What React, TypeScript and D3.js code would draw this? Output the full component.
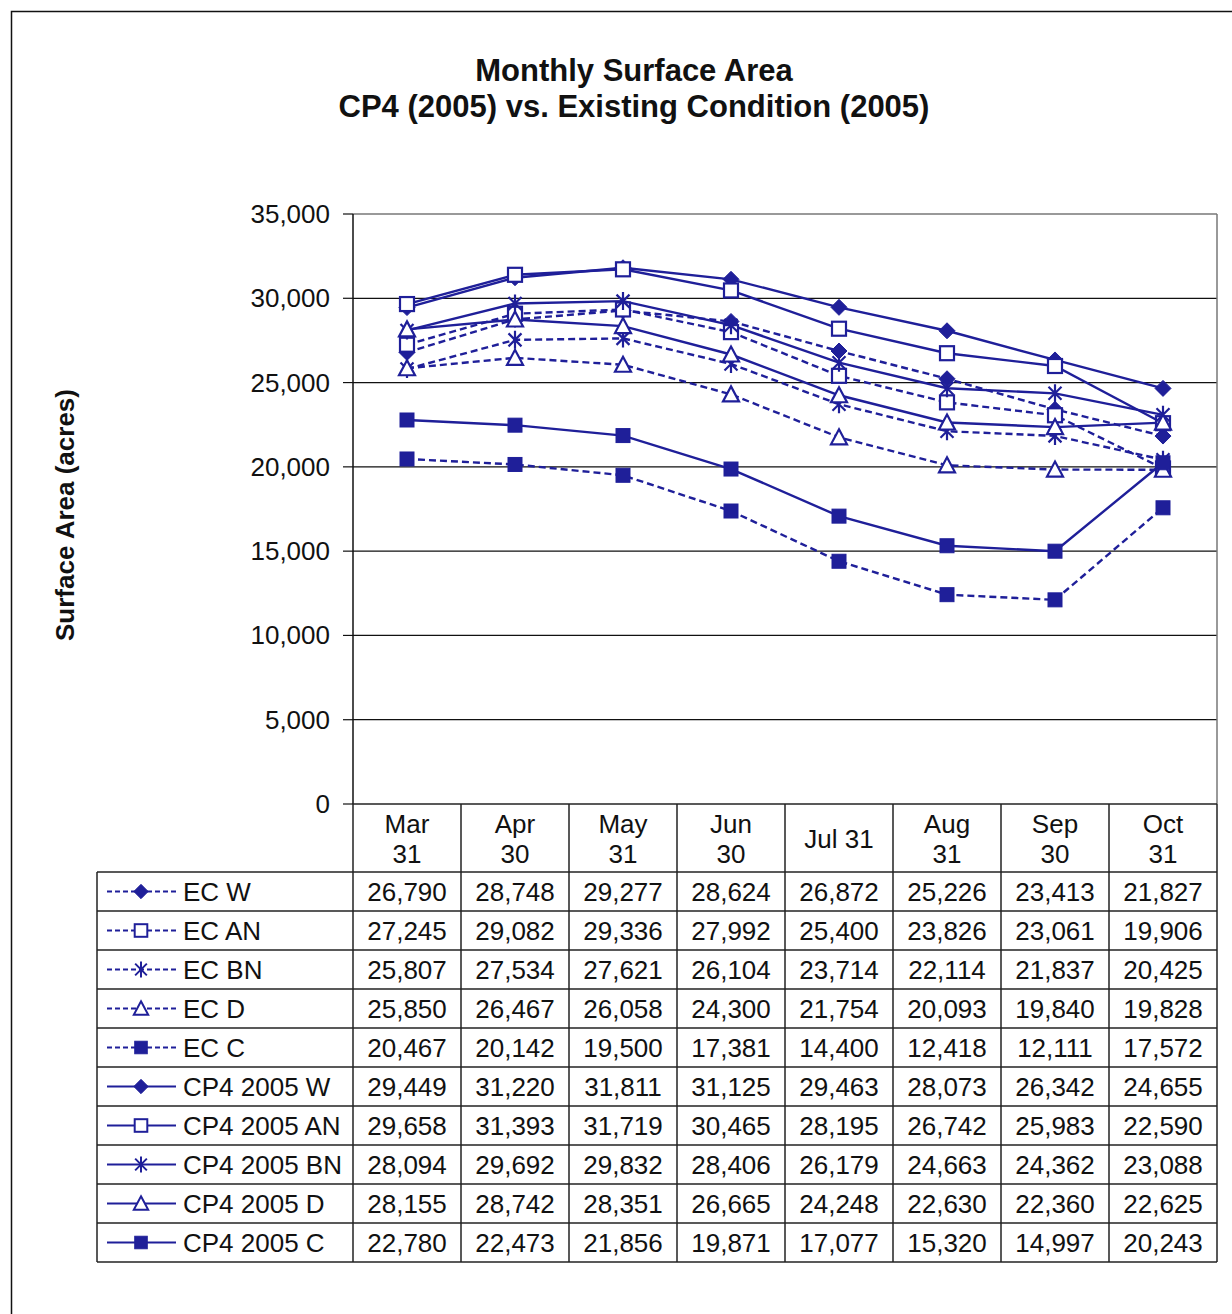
import React from "react";
import * as d3 from "d3";

const months = ["Mar 31", "Apr 30", "May 31", "Jun 30", "Jul 31", "Aug 31", "Sep 30", "Oct 31"];
const monthLines = [["Mar", "31"], ["Apr", "30"], ["May", "31"], ["Jun", "30"], ["Jul 31"], ["Aug", "31"], ["Sep", "30"], ["Oct", "31"]];
const yTicks = [0, 5000, 10000, 15000, 20000, 25000, 30000, 35000];

const ecW = [26790, 28748, 29277, 28624, 26872, 25226, 23413, 21827];
const ecAN = [27245, 29082, 29336, 27992, 25400, 23826, 23061, 19906];
const ecBN = [25807, 27534, 27621, 26104, 23714, 22114, 21837, 20425];
const ecD = [25850, 26467, 26058, 24300, 21754, 20093, 19840, 19828];
const ecC = [20467, 20142, 19500, 17381, 14400, 12418, 12111, 17572];
const cpW = [29449, 31220, 31811, 31125, 29463, 28073, 26342, 24655];
const cpAN = [29658, 31393, 31719, 30465, 28195, 26742, 25983, 22590];
const cpBN = [28094, 29692, 29832, 28406, 26179, 24663, 24362, 23088];
const cpD = [28155, 28742, 28351, 26665, 24248, 22630, 22360, 22625];
const cpC = [22780, 22473, 21856, 19871, 17077, 15320, 14997, 20243];

type Series = { name: string; values: number[]; dashed: boolean; marker: string };
const series: Series[] = [
  { name: "EC W", values: ecW, dashed: true, marker: "diamond" },
  { name: "EC AN", values: ecAN, dashed: true, marker: "squareOpen" },
  { name: "EC BN", values: ecBN, dashed: true, marker: "star" },
  { name: "EC D", values: ecD, dashed: true, marker: "triangle" },
  { name: "EC C", values: ecC, dashed: true, marker: "squareFilled" },
  { name: "CP4 2005 W", values: cpW, dashed: false, marker: "diamond" },
  { name: "CP4 2005 AN", values: cpAN, dashed: false, marker: "squareOpen" },
  { name: "CP4 2005 BN", values: cpBN, dashed: false, marker: "star" },
  { name: "CP4 2005 D", values: cpD, dashed: false, marker: "triangle" },
  { name: "CP4 2005 C", values: cpC, dashed: false, marker: "squareFilled" },
];

const COLOR = "#1f1f99";
const FONT = "'Liberation Sans', Arial, sans-serif";

function Marker({ type, x, y, s = 1 }: { type: string; x: number; y: number; s?: number }) {
  const t = `translate(${x},${y}) scale(${s})`;
  if (type === "diamond") {
    return <path transform={t} d="M0,-8 L8,0 L0,8 L-8,0 Z" fill={COLOR} stroke={COLOR} strokeWidth={1} />;
  }
  if (type === "squareOpen") {
    return <rect transform={t} x={-7} y={-7} width={14} height={14} fill="white" stroke={COLOR} strokeWidth={2.2} />;
  }
  if (type === "squareFilled") {
    return <rect transform={t} x={-7} y={-7} width={14} height={14} fill={COLOR} stroke={COLOR} strokeWidth={1} />;
  }
  if (type === "triangle") {
    return <path transform={t} d="M0,-8 L8,7 L-8,7 Z" fill="white" stroke={COLOR} strokeWidth={2.2} />;
  }
  return (
    <path transform={t} d="M-6.5,-6.5 L6.5,6.5 M-6.5,6.5 L6.5,-6.5 M0,-9 L0,9" fill="none" stroke={COLOR} strokeWidth={2.2} />
  );
}

export default function App() {
  const W = 1232;
  const H = 1314;
  const left = 353;
  const right = 1217;
  const top = 214;
  const bottom = 804;
  const tableLeft = 97;
  const headerBottom = 872;
  const rowH = 39;

  const x = d3.scaleBand<string>().domain(months).range([left, right]);
  const y = d3.scaleLinear().domain([0, 35000]).range([bottom, top]);
  const fmt = d3.format(",");
  const line = d3
    .line<number>()
    .x((_, i) => (x(months[i]) as number) + x.bandwidth() / 2)
    .y((v) => y(v));

  const cx = (i: number) => (x(months[i]) as number) + x.bandwidth() / 2;
  const tableBottom = headerBottom + rowH * series.length;
  const FS = 26;

  return (
    <div style={{ position: "absolute", left: 0, top: 0 }}>
      <svg width={W} height={H} style={{ display: "block", background: "white" }} fontFamily={FONT}>
        <rect x={0} y={0} width={W} height={H} fill="white" />
        <rect x={11.5} y={11.5} width={W + 10} height={H + 10} fill="none" stroke="#111" strokeWidth={1.5} />

        <text x={634} y={81} textAnchor="middle" fontSize={31} fontWeight="bold" fill="#111">
          Monthly Surface Area
        </text>
        <text x={634} y={117} textAnchor="middle" fontSize={31} fontWeight="bold" fill="#111">
          CP4 (2005) vs. Existing Condition (2005)
        </text>

        <text
          transform={`translate(74,${(top + bottom) / 2 + 6}) rotate(-90)`}
          textAnchor="middle"
          fontSize={26}
          fontWeight="bold"
          fill="#111"
        >
          Surface Area (acres)
        </text>

        {yTicks.map((t) => (
          <g key={t}>
            {t > 0 && t < 35000 && (
              <line x1={left} x2={right} y1={y(t)} y2={y(t)} stroke="#111" strokeWidth={1.2} />
            )}
            <line x1={left - 10} x2={left} y1={y(t)} y2={y(t)} stroke="#111" strokeWidth={1.2} />
            <text x={330} y={y(t) + 9} textAnchor="end" fontSize={FS} fill="#111">
              {fmt(t)}
            </text>
          </g>
        ))}
        <line x1={left} x2={right} y1={top} y2={top} stroke="#777" strokeWidth={1.5} />
        <line x1={right} x2={right} y1={top} y2={bottom} stroke="#777" strokeWidth={1.5} />
        <line x1={left} x2={left} y1={top} y2={bottom} stroke="#111" strokeWidth={1.5} />

        {series.map((s) => (
          <path
            key={s.name}
            d={line(s.values) as string}
            fill="none"
            stroke={COLOR}
            strokeWidth={2.4}
            strokeDasharray={s.dashed ? "7,4" : undefined}
          />
        ))}
        {series.map((s) => (
          <g key={s.name + "m"}>
            {s.values.map((v, i) => (
              <Marker key={i} type={s.marker} x={cx(i)} y={y(v)} />
            ))}
          </g>
        ))}

        <g stroke="#222" strokeWidth={1.5}>
          <line x1={left} x2={right} y1={bottom} y2={bottom} />
          {series.map((_, r) => (
            <line key={r} x1={tableLeft} x2={right} y1={headerBottom + r * rowH} y2={headerBottom + r * rowH} />
          ))}
          <line x1={tableLeft} x2={right} y1={tableBottom} y2={tableBottom} />
          <line x1={tableLeft} x2={tableLeft} y1={headerBottom} y2={tableBottom} />
          {months.map((m) => (
            <line key={m} x1={x(m) as number} x2={x(m) as number} y1={bottom} y2={tableBottom} />
          ))}
          <line x1={right} x2={right} y1={bottom} y2={tableBottom} />
        </g>

        {monthLines.map((ls, i) =>
          ls.length === 2 ? (
            <g key={i}>
              <text x={cx(i)} y={833} textAnchor="middle" fontSize={FS} fill="#111">
                {ls[0]}
              </text>
              <text x={cx(i)} y={863} textAnchor="middle" fontSize={FS} fill="#111">
                {ls[1]}
              </text>
            </g>
          ) : (
            <text key={i} x={cx(i)} y={848} textAnchor="middle" fontSize={FS} fill="#111">
              {ls[0]}
            </text>
          )
        )}

        {series.map((s, r) => {
          const cy = headerBottom + r * rowH + rowH / 2;
          return (
            <g key={s.name + "row"}>
              <line
                x1={107}
                x2={176}
                y1={cy}
                y2={cy}
                stroke={COLOR}
                strokeWidth={2.2}
                strokeDasharray={s.dashed ? "5,3" : undefined}
              />
              <Marker type={s.marker} x={141} y={cy} s={0.9} />
              <text x={183} y={cy + 9} fontSize={FS} fill="#111">
                {s.name}
              </text>
              {s.values.map((v, i) => (
                <text key={i} x={cx(i)} y={cy + 9} textAnchor="middle" fontSize={FS} fill="#111">
                  {fmt(v)}
                </text>
              ))}
            </g>
          );
        })}
      </svg>
    </div>
  );
}
